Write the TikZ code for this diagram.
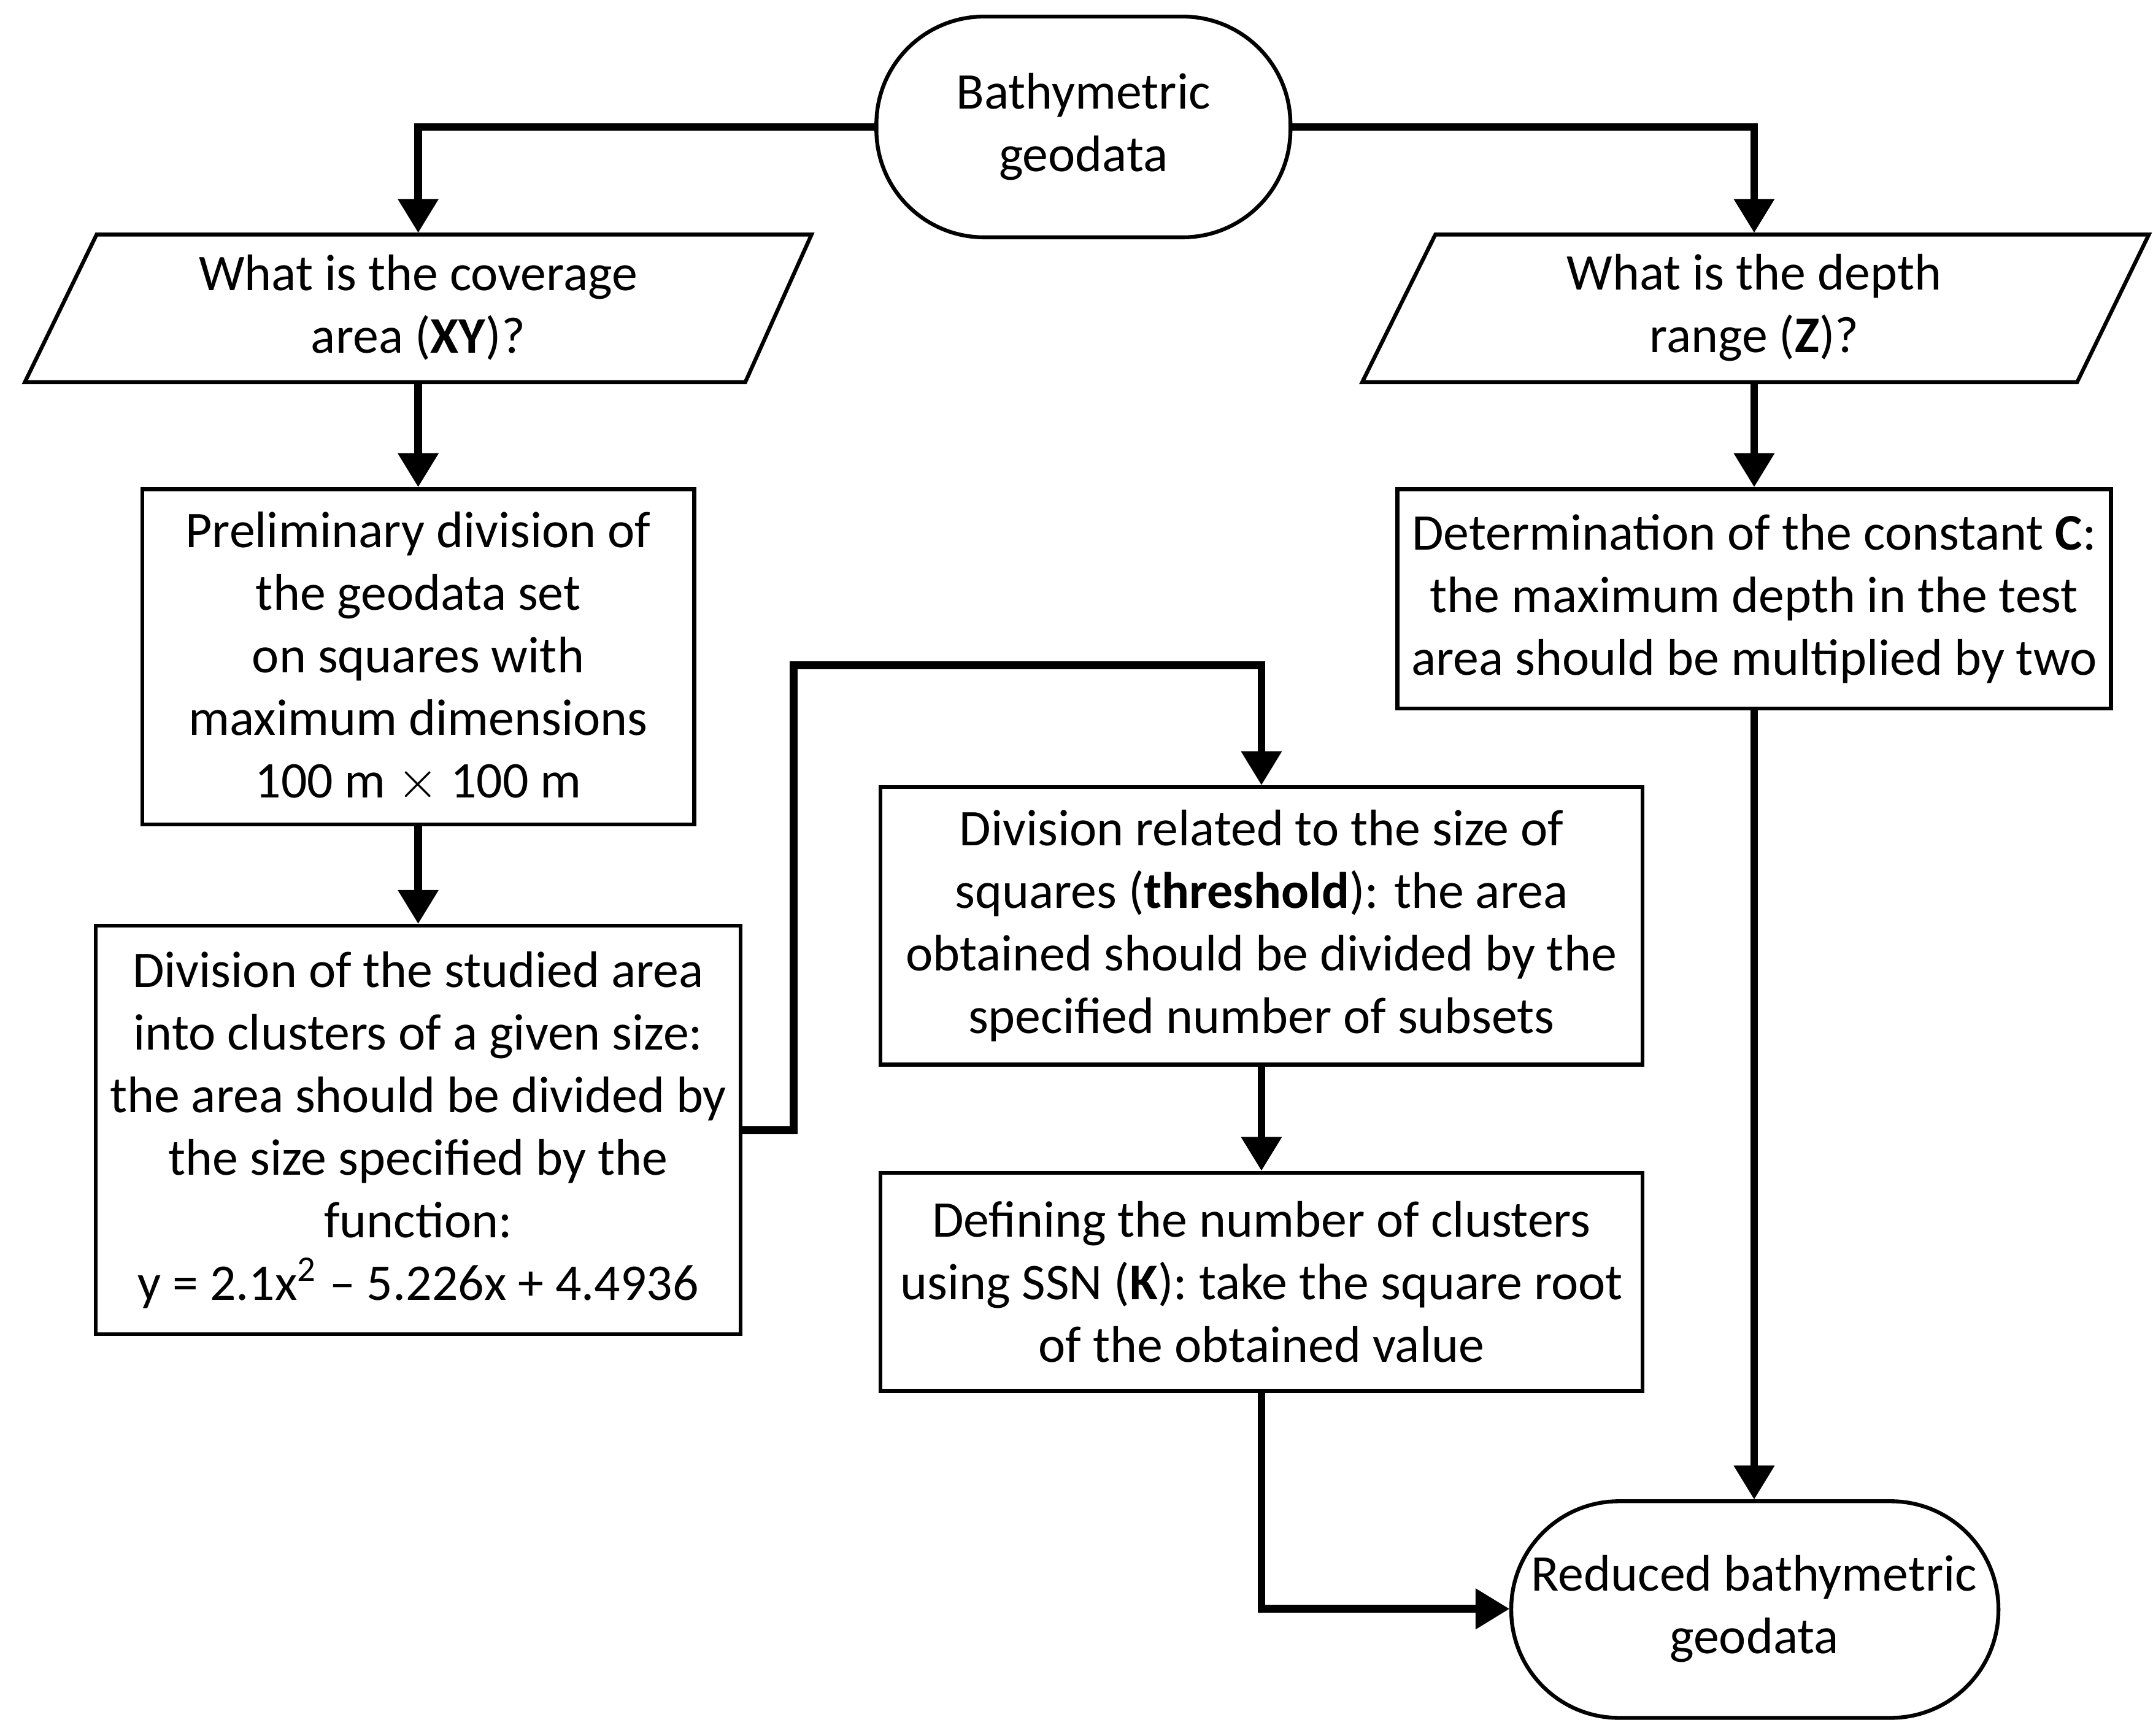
\documentclass[tikz,border=0pt]{standalone}
\usepackage{fontspec}
\setmainfont{Carlito}
\usetikzlibrary{arrows.meta,positioning}
\begin{document}
\begin{tikzpicture}[x=0.01cm,y=-0.01cm,
    every node/.style={font=\fontsize{10.6}{12.9}\selectfont,align=center,inner sep=0pt},
    box/.style={draw,line width=0.8pt,minimum width=#1},
    term/.style={draw,line width=0.8pt,rounded corners=0.78cm},
    flow/.style={line width=1.6pt,-{Triangle[length=7pt,width=8pt]}}]

\useasboundingbox (0,0) rectangle (1560,1258);

% terminals
\draw[term] (635,12) rectangle (935,172);
\node (start) at (785,92) [minimum width=300*0.01cm,minimum height=160*0.01cm] {Bathymetric\\geodata};
\draw[term] (1095,1088) rectangle (1448,1245);
\node (stop) at (1271,1166) [minimum width=353*0.01cm,minimum height=157*0.01cm] {Reduced bathymetric\\geodata};

% inputs
\draw[line width=0.8pt] (70,170) -- (588,170) -- (540,277) -- (18,277) -- cycle;
\node (qxy) at (303,223) [minimum width=470*0.01cm,minimum height=107*0.01cm] {What is the coverage\\area (\textbf{XY})?};
\draw[line width=0.8pt] (1040,170) -- (1557,170) -- (1505,277) -- (987,277) -- cycle;
\node (qz) at (1271,223) [minimum width=470*0.01cm,minimum height=107*0.01cm] {What is the depth\\range (\textbf{Z})?};

% processes
\node (prelim) at (303,476) [box=400*0.01cm,minimum height=243*0.01cm] {Preliminary division of\\the geodata set\\on squares with\\maximum dimensions\\100 m $\times$ 100 m};
\node (clust) at (303,819) [box=467*0.01cm,minimum height=296*0.01cm] {Division of the studied area\\into clusters of a given size:\\the area should be divided by\\the size specified by the\\function:\\y = 2.1x\textsuperscript{2} -- 5.226x + 4.4936};
\node (thresh) at (914,671) [box=552*0.01cm,minimum height=201*0.01cm] {Division related to the size of\\squares (\textbf{threshold}): the area\\obtained should be divided by the\\specified number of subsets};
\node (ssn) at (914,929) [box=552*0.01cm,minimum height=158*0.01cm] {Defining the number of clusters\\using SSN (\textbf{K}): take the square root\\of the obtained value};
\node (const) at (1271,434) [box=517*0.01cm,minimum height=159*0.01cm] {Determination of the constant \textbf{C}:\\the maximum depth in the test\\area should be multiplied by two};

\coordinate (b1) at (575,819);
\coordinate (b2) at (575,482);
\coordinate (b3) at (914,482);

\draw[flow] (start.west) -| (qxy.north);
\draw[flow] (start.east) -| (qz.north);
\draw[flow] (qxy) -- (prelim);
\draw[flow] (prelim) -- (clust);
\draw[flow] (qz) -- (const);
\draw[flow] (clust.east) -- (b1) -- (b2) -- (b3) -- (thresh.north);
\draw[flow] (thresh) -- (ssn);
\draw[flow] (ssn.south) |- (stop.west);
\draw[flow] (const) -- (stop);

\end{tikzpicture}
\end{document}
